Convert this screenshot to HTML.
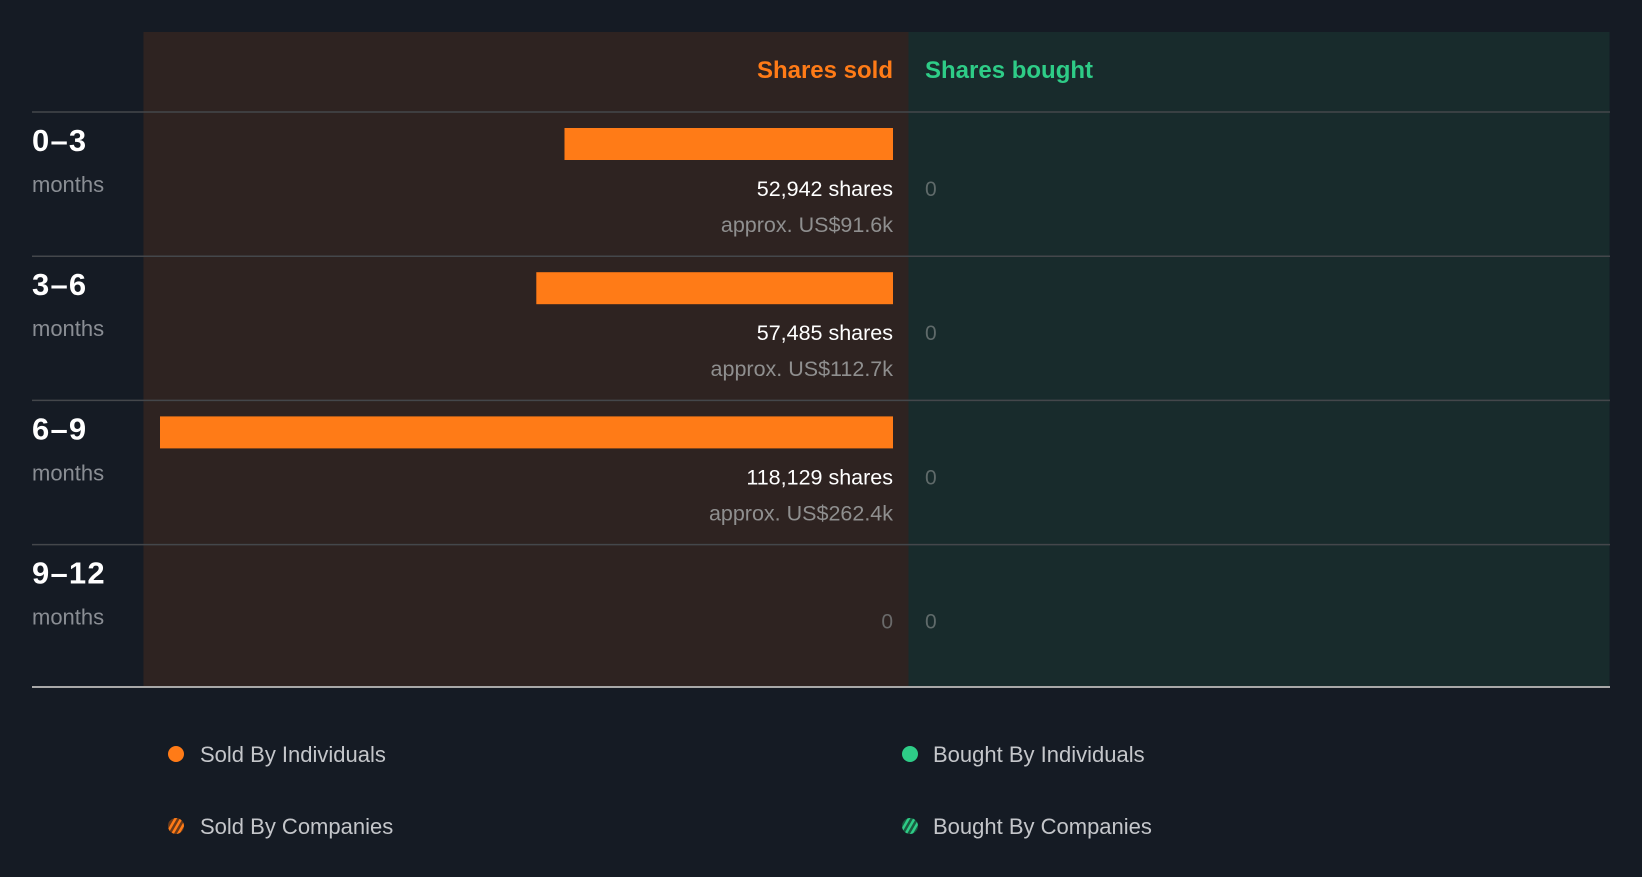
<!DOCTYPE html>
<html><head><meta charset="utf-8"><style>
body{margin:0;background:#151b24;width:1642px;height:872px;overflow:hidden;font-family:"Liberation Sans",sans-serif;}
</style></head><body>
<svg width="1642" height="872" id="chart">
<rect x="143.5" y="32" width="765" height="655" fill="#2e2321"/>
<rect x="908.5" y="32" width="701" height="655" fill="#182b2c"/>
<text x="893" y="78" text-anchor="end" fill="#ff7b17" font-size="24" font-weight="bold">Shares sold</text>
<text x="925" y="78" fill="#2ecc87" font-size="24" font-weight="bold">Shares bought</text>
<g id="rows"></g>
<line x1="32" y1="687" x2="1610" y2="687" stroke="#a8a8a8" stroke-width="2"/>
<defs>
<pattern id="hatchO" width="5" height="5" patternUnits="userSpaceOnUse" patternTransform="rotate(30)"><rect width="5" height="5" fill="#6b3a18"/><rect width="2.5" height="5" fill="#ff7b17"/></pattern>
<pattern id="hatchG" width="5" height="5" patternUnits="userSpaceOnUse" patternTransform="rotate(30)"><rect width="5" height="5" fill="#1a5a40"/><rect width="2.5" height="5" fill="#2ecc87"/></pattern>
</defs>
<g font-size="22" fill="#c4c6ca">
<circle cx="176" cy="754" r="8" fill="#ff7b17"/>
<text x="200" y="762">Sold By Individuals</text>
<circle cx="176" cy="826" r="8" fill="url(#hatchO)"/>
<text x="200" y="834">Sold By Companies</text>
<circle cx="910" cy="754" r="8" fill="#2ecc87"/>
<text x="933" y="762">Bought By Individuals</text>
<circle cx="910" cy="826" r="8" fill="url(#hatchG)"/>
<text x="933" y="834">Bought By Companies</text>
</g>
</svg>
<script>
const periods = ["0\u20133","3\u20136","6\u20139","9\u201312"];
const sharesSold = [52942, 57485, 118129, 0];
const valueSold = ["US$91.6k","US$112.7k","US$262.4k",""];
const sharesBought = [0, 0, 0, 0];
const NS="http://www.w3.org/2000/svg";
const g=document.getElementById('rows');
const maxV=Math.max(...sharesSold,...sharesBought,1);
const right=893, maxW=733, top0=112, rowH=144.2;
function xLen(v){return v/maxV*maxW;}
function mk(tag,attrs,txt){const e=document.createElementNS(NS,tag);for(const k in attrs)e.setAttribute(k,attrs[k]);if(txt!==undefined)e.textContent=txt;g.appendChild(e);return e;}
periods.forEach((p,i)=>{
  const y=top0+i*rowH;
  const ln=mk('line',{x1:32,y1:y,x2:1610,y2:y,stroke:'#44474b','stroke-width':1.5});
  
  
  const lb=mk('text',{x:32,y:y+39,fill:'#ffffff','font-size':31,'font-weight':'bold','letter-spacing':1.2},p);
  
  
  const mo=mk('text',{x:32,y:y+80,fill:'#8a8e94','font-size':22},'months');
  
  
  const v=sharesSold[i];
  if(v>0){
    const w=xLen(v);
    const b=mk('rect',{x:right-w,y:y+16,width:w,height:32,fill:'#ff7b17'});
    
    
    const t=mk('text',{x:right,y:y+84,'text-anchor':'end',fill:'#ffffff','font-size':21.5},v.toLocaleString('en-US')+' shares');
    
    
    const a=mk('text',{x:right,y:y+120,'text-anchor':'end',fill:'#8f8f8f','font-size':21.5},'approx. '+valueSold[i]);
    
    
  } else {
    const z=mk('text',{x:right,y:y+84,'text-anchor':'end',fill:'#6a6a6a','font-size':21},'0');
    
    
  }
  const bv=sharesBought[i];
  if(bv>0){
    const w=xLen(bv);
    const bb=mk('rect',{x:925,y:y+16,width:w,height:32,fill:'#2ecc87'});
    
    
  }
  const bz=mk('text',{x:925,y:y+84,fill:'#5f6a6a','font-size':21},bv>0?bv.toLocaleString('en-US')+' shares':'0');
  
  
});
</script>
</body></html>
